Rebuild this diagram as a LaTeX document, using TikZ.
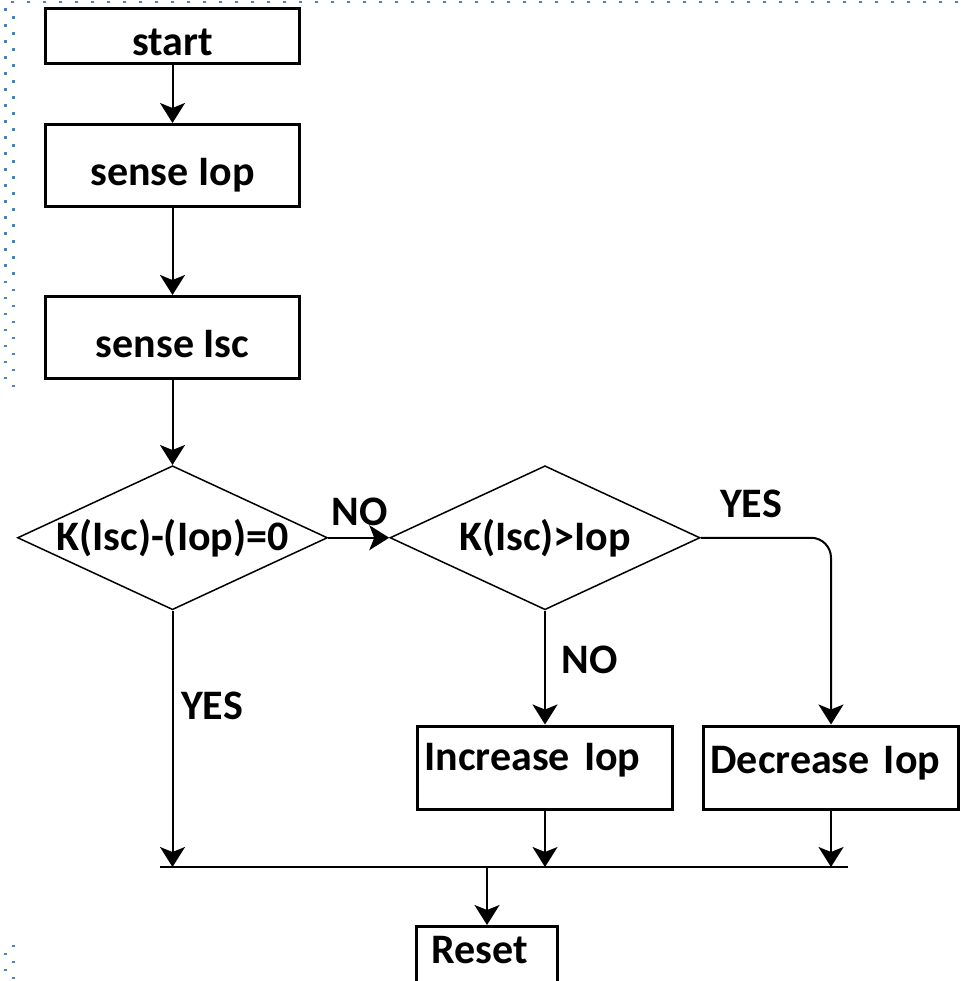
\documentclass[tikz,border=0pt]{standalone}
\usepackage{fontspec}
\setmainfont{Carlito}
\usetikzlibrary{positioning,shapes.geometric,arrows.meta}
\definecolor{dotblue}{RGB}{79,129,189}

\tikzset{
	chart/.style={font=\fontsize{42}{48}\selectfont\bfseries},
	procbox/.style={draw, line width=3pt, rectangle, minimum width=254pt, inner sep=2pt},
	topbox/.style={procbox, minimum height=82pt, text height=40pt, text depth=0pt},
	decision/.style={draw, line width=1.5pt, diamond, aspect=2.15, minimum width=310pt,
		minimum height=144pt, inner sep=0pt, text height=27pt, text depth=2pt},
	flow/.style={line width=2pt, -{Stealth[length=20pt,width=25pt,inset=5pt]}},
	answer/.style={inner sep=0pt},
}

\begin{document}
\begin{tikzpicture}[x=1pt, y=-1pt, chart]
	\useasboundingbox (0,0) rectangle (963,981);
	\clip (0,0) rectangle (963,981);

	% page border dots
	\foreach \k in {0,...,59}
		\fill[dotblue] (11+16*\k,1) rectangle ++(2.5,2.5);
	\foreach \k in {0,...,23} {
		\fill[dotblue] (4,8.5+16*\k) rectangle ++(2.5,2.5);
		\fill[dotblue] (12,16.5+16*\k) rectangle ++(2.5,2.5);
	}
	\foreach \k in {0,1,2}
		\fill[dotblue] (12,944.5+16*\k) rectangle ++(2.5,2.5);
	\foreach \k in {0,1}
		\fill[dotblue] (4,952.5+16*\k) rectangle ++(2.5,2.5);

	\node [topbox, minimum height=55pt] (start) at (172.5,36) {start};
	\node [topbox, below=58pt of start] (senseiop) {sense Iop};
	\node [topbox, below=87pt of senseiop] (senseisc) {sense Isc};
	\node [decision, below=85pt of senseisc] (test) {K(Isc)-(Iop)=0};
	\node [decision, right=61pt of test] (cmp) {K(Isc)>Iop};
	\node [procbox, minimum height=83pt, below=114pt of cmp, text width=241pt, inner xsep=7pt,
		align=left, text height=27pt, text depth=22pt] (inc) {Increase Iop};
	\node [procbox, minimum height=83pt, right=28pt of inc, text width=241pt, inner xsep=7pt,
		align=left, text height=27pt, text depth=16pt] (dec) {Decrease Iop};

	\coordinate (busl) at (160,867);
	\coordinate (busr) at (848,867);
	\coordinate (busj) at (487,867);
	\node [procbox, minimum width=141pt, minimum height=70pt, text width=111pt, inner xsep=15pt,
		align=left, text height=27pt, text depth=24pt, below=58pt of busj] (reset) {Reset};

	\node [answer] (noright) at (360,512) {NO};
	\node [answer] (yesright) at (751,504) {YES};
	\node [answer] (nodown) at (590,660) {NO};
	\node [answer] (yesdown) at (212,706) {YES};

	\draw [flow] (start) -- (senseiop);
	\draw [flow] (senseiop) -- (senseisc);
	\draw [flow] (senseisc) -- (test);
	\draw [flow] (test) -- (cmp);
	\draw [flow, rounded corners=20pt] (cmp) -| (dec);
	\draw [flow] (cmp) -- (inc);
	\draw [flow] (test) -- (test |- busj);
	\draw [flow] (inc) -- (inc |- busj);
	\draw [flow] (dec) -- (dec |- busj);
	\draw [line width=2pt] (busl) -- (busr);
	\draw [flow] (busj) -- (reset);

\end{tikzpicture}
\end{document}
